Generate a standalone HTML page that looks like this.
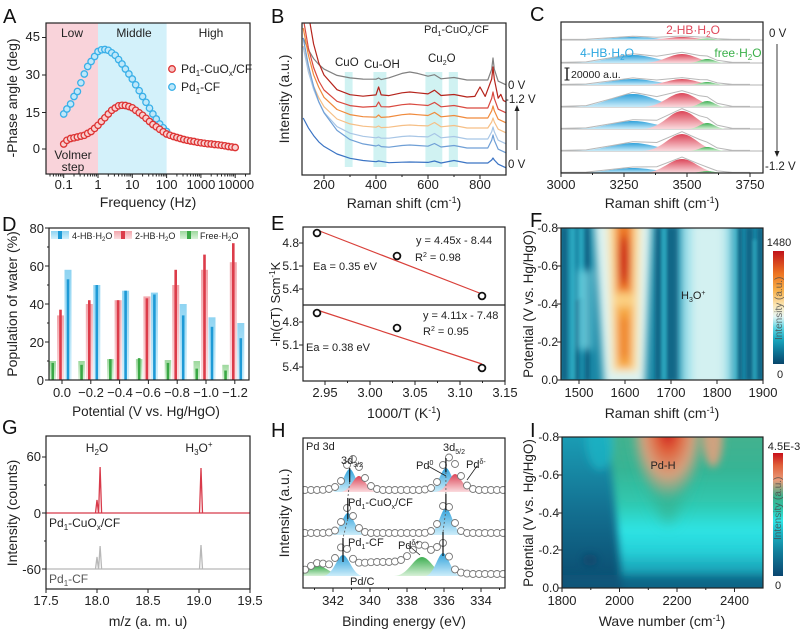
<!DOCTYPE html>
<html><head><meta charset="utf-8"><style>
html,body{margin:0;padding:0;background:#fff;}
svg{display:block;font-family:"Liberation Sans",Arial,sans-serif;}
</style></head><body>
<svg width="800" height="633" viewBox="0 0 800 633" xmlns="http://www.w3.org/2000/svg">
<defs>
<clipPath id="cB"><rect x="302" y="23" width="204" height="152"/></clipPath>
<clipPath id="cC"><rect x="561" y="22" width="202" height="151"/></clipPath>
<clipPath id="cF"><rect x="561" y="228" width="202" height="152"/></clipPath>
<clipPath id="cH"><rect x="303" y="438" width="202" height="150"/></clipPath>
<clipPath id="cI"><rect x="562" y="437" width="201" height="151"/></clipPath>
<filter id="bl" filterUnits="userSpaceOnUse" x="0" y="0" width="800" height="633"><feGaussianBlur stdDeviation="4"/></filter>
<filter id="bl1" filterUnits="userSpaceOnUse" x="0" y="0" width="800" height="633"><feGaussianBlur stdDeviation="1.5"/></filter>
<filter id="bl2" filterUnits="userSpaceOnUse" x="0" y="0" width="800" height="633"><feGaussianBlur stdDeviation="7"/></filter>
<marker id="mb" markerUnits="userSpaceOnUse" markerWidth="10" markerHeight="10" refX="5" refY="5"><circle cx="5" cy="5" r="3.2" fill="#bfe8fa" stroke="#3ab0e8" stroke-width="1.3"/></marker>
<marker id="mr" markerUnits="userSpaceOnUse" markerWidth="10" markerHeight="10" refX="5" refY="5"><circle cx="5" cy="5" r="3.2" fill="#f8d0d0" stroke="#d33" stroke-width="1.3"/></marker>
<marker id="mh" markerUnits="userSpaceOnUse" markerWidth="10" markerHeight="10" refX="5" refY="5"><circle cx="5" cy="5" r="3.5" fill="#fff" stroke="#777" stroke-width="0.9"/></marker>
<linearGradient id="gF" x1="0" y1="1" x2="0" y2="0">
<stop offset="0" stop-color="#08456a"/><stop offset="0.12" stop-color="#0f7a9a"/><stop offset="0.22" stop-color="#1ba9c0"/><stop offset="0.32" stop-color="#5fd6e4"/><stop offset="0.42" stop-color="#e6f6f4"/><stop offset="0.52" stop-color="#fbe6b4"/><stop offset="0.65" stop-color="#f7b04a"/><stop offset="0.8" stop-color="#ec7422"/><stop offset="1" stop-color="#c0121a"/></linearGradient>
<linearGradient id="gI" x1="0" y1="1" x2="0" y2="0">
<stop offset="0" stop-color="#0a4670"/><stop offset="0.2" stop-color="#127f9c"/><stop offset="0.35" stop-color="#1bb5c4"/><stop offset="0.45" stop-color="#2ee6e6"/><stop offset="0.55" stop-color="#2fc4a8"/><stop offset="0.65" stop-color="#3fae8a"/><stop offset="0.78" stop-color="#e89a78"/><stop offset="0.9" stop-color="#e0603a"/><stop offset="1" stop-color="#c8101a"/></linearGradient>
<linearGradient id="iL" x1="0" y1="1" x2="0" y2="0"><stop offset="0" stop-color="#0a4a6e"/><stop offset="0.5" stop-color="#136f90"/><stop offset="1" stop-color="#1a9cb4"/></linearGradient>
<linearGradient id="iR" x1="0" y1="1" x2="0" y2="0"><stop offset="0" stop-color="#0e5c80"/><stop offset="0.12" stop-color="#158ea8"/><stop offset="0.28" stop-color="#26d0d8"/><stop offset="0.4" stop-color="#2ee4e4"/><stop offset="0.55" stop-color="#2fc9b0"/><stop offset="0.75" stop-color="#36b494"/><stop offset="1" stop-color="#48b08c"/></linearGradient>
<radialGradient id="iP"><stop offset="0" stop-color="#c8101a"/><stop offset="0.3" stop-color="#e0603a"/><stop offset="0.65" stop-color="#e8a07c" stop-opacity="0.9"/><stop offset="1" stop-color="#e8a07c" stop-opacity="0"/></radialGradient>
<linearGradient id="lb" x1="0" y1="0" x2="0" y2="1"><stop offset="0" stop-color="#8fd4f2"/><stop offset="1" stop-color="#d4f0fb"/></linearGradient>
<linearGradient id="lr" x1="0" y1="0" x2="0" y2="1"><stop offset="0" stop-color="#f2a6ac"/><stop offset="1" stop-color="#fbdde0"/></linearGradient>
<linearGradient id="lg" x1="0" y1="0" x2="0" y2="1"><stop offset="0" stop-color="#9dd89d"/><stop offset="1" stop-color="#daf2da"/></linearGradient>
<linearGradient id="fb" x1="0" y1="0" x2="0" y2="1"><stop offset="0" stop-color="#1f9ad8"/><stop offset="1" stop-color="#c8ecfa"/></linearGradient>
<linearGradient id="fr" x1="0" y1="0" x2="0" y2="1"><stop offset="0" stop-color="#d9364a"/><stop offset="1" stop-color="#fbd8dc"/></linearGradient>
<linearGradient id="fg" x1="0" y1="0" x2="0" y2="1"><stop offset="0" stop-color="#2ea844"/><stop offset="1" stop-color="#d4f0d4"/></linearGradient>
</defs>
<rect width="800" height="633" fill="#fff"/>

<!-- ===== A ===== -->
<rect x="46" y="23" width="52" height="151" fill="#f9d3da"/>
<rect x="98" y="23" width="68.6" height="151" fill="#d3f1fa"/>
<polyline fill="none" stroke="none" marker-start="url(#mb)" marker-mid="url(#mb)" marker-end="url(#mb)" points="63.7,114 66.9,109 70.6,104 74,96.5 77.4,91.5 80.9,82.8 84.3,74 87.7,66.5 91.1,61.5 94.6,56.5 98,51.5 101.4,49.8 104.9,49.5 108.3,50.3 111.7,52.8 115.2,55.3 118.6,59.6 122,64 125.4,69 128.9,74 132.3,79 135.7,84.8 139.2,90.7 142.6,96.5 146,102.3 149.5,108.2 152.9,114 156.3,119 159.7,124 163.2,127.8 166.6,131.5"/>
<polyline fill="none" stroke="none" marker-start="url(#mr)" marker-mid="url(#mr)" marker-end="url(#mr)" points="63.7,144 66.9,140.3 70.6,138.5 74,137.8 77.4,137 80.9,136.1 84.3,135.3 87.7,133.4 91.1,131.5 94.6,128.4 98,125.3 101.4,121.5 104.9,117.8 108.3,114 111.7,110.3 115.2,108 118.6,105.8 122,105.3 125.4,105.5 128.9,106.5 132.3,107.8 135.7,110.3 139.2,112.8 142.6,115.3 146,118.3 149.5,121.5 152.9,124.5 156.3,126.8 159.7,129.3 163.2,131.8 166.6,134 170,135.3 173.5,136.5 176.9,137.5 180.3,138.5 183.8,139.5 187.2,140.3 190.6,141 194,141.5 197.5,142.3 200.9,142.8 204.3,143.3 207.8,143.8 211.2,144 214.6,144.5 218.1,144.8 221.5,145.3 224.9,145.8 228.3,146.5 231.8,147 235.2,147.5"/>
<g stroke="#222" stroke-width="1" fill="none">
<path d="M46,37.5h-4M46,75h-4M46,112.5h-4M46,149h-4"/>
<path d="M63.7,174v4M98,174v4M132.3,174v4M166.6,174v4M200.9,174v4M235.2,174v4"/>
<path d="M50,174v2.5M53.4,174v2.5M56.1,174v2.5M58.4,174v2.5M60.4,174v2.5M62.1,174v2.5M74,174v2.5M80.1,174v2.5M84.3,174v2.5M87.7,174v2.5M90.4,174v2.5M92.7,174v2.5M94.7,174v2.5M96.4,174v2.5M108.3,174v2.5M114.4,174v2.5M118.6,174v2.5M122,174v2.5M124.7,174v2.5M127,174v2.5M129,174v2.5M130.7,174v2.5M142.6,174v2.5M148.7,174v2.5M152.9,174v2.5M156.3,174v2.5M159,174v2.5M161.3,174v2.5M163.3,174v2.5M165,174v2.5M176.9,174v2.5M183,174v2.5M187.2,174v2.5M190.6,174v2.5M193.3,174v2.5M195.6,174v2.5M197.6,174v2.5M199.3,174v2.5M211.2,174v2.5M217.3,174v2.5M221.5,174v2.5M224.9,174v2.5M227.6,174v2.5M229.9,174v2.5M231.9,174v2.5M233.6,174v2.5M245.5,174v2.5"/>
</g>

<!-- ===== B ===== -->
<g clip-path="url(#cB)">
<g fill="#c8f0f0" opacity="0.85"><rect x="344.8" y="72" width="7.8" height="95"/><rect x="373.4" y="72" width="13" height="95"/><rect x="425.4" y="72" width="16.9" height="95"/><rect x="448.8" y="72" width="9.1" height="95"/></g>
<g fill="none" stroke-width="1.2" stroke-linejoin="round">
<polyline stroke="#808080" points="303.2,38 308.4,49.8 313.6,58.6 318.8,64.5 324,69.1 337,75.4 350,77.9 363,79.1 376,79.2 378.6,78 381.2,79.6 389,77.8 402,73.4 409.8,72 417.6,73.4 428,76.2 434.5,74.7 441,78.8 454,77.5 467,80 480,80 487.8,80 491.7,69.2 493,58 494.3,69.2 498.2,81.2 506,84.8"/>
<polyline stroke="#b5241c" points="303.2,-33 308.4,14 313.6,44 318.8,63 324,75 337,89.7 350,94.7 363,96.2 376,94.9 378.6,87 381.2,94.9 389,95.6 402,92.8 409.8,92 417.6,92.8 428,93.9 434.5,90.2 441,95.5 454,94.5 467,97 474.8,96.4 480,87 485.2,96.4 491.7,79 493,67 494.3,79 498.2,98.2 500.8,94.4 503.4,100.6 506,101.8"/>
<polyline stroke="#d9493f" points="303.2,18 308.4,48 313.6,67.5 318.8,81 324,90 337,101.3 350,105.6 363,107.1 376,106.4 378.6,102 381.2,106.7 389,106.9 402,104.7 409.8,104 417.6,104.7 428,105.5 434.5,102.4 441,106.8 454,105.5 467,108 480,108 487.8,108 491.7,98.4 493,92 494.3,98.4 498.2,109.2 506,112.8"/>
<polyline stroke="#f08a3c" points="303.2,28 308.4,55 313.6,74.8 318.8,87.4 324,97.3 337,109.5 350,114.6 363,116.7 376,117.2 378.6,115 381.2,117.4 389,116.9 402,114.7 409.8,114 417.6,114.7 428,115.5 434.5,112.4 441,116.8 454,115.5 467,118 480,118 487.8,118 491.7,110.8 493,106 494.3,110.8 498.2,119.2 506,122.8"/>
<polyline stroke="#f6bf86" points="303.2,46 308.4,69 313.6,86.2 318.8,97.7 324,106.7 337,119 350,123.9 363,126.2 376,127.2 378.6,126 381.2,127.6 389,127.2 402,125.5 409.8,125 417.6,125.5 428,125.9 434.5,122.5 441,126.8 454,125.5 467,128 480,128 487.8,128 491.7,122 493,118 494.3,122 498.2,129.2 506,132.8"/>
<polyline stroke="#a8c6e6" points="303.2,47 308.4,72 313.6,89.3 318.8,102.2 324,112.3 337,126.6 350,133.2 363,136.3 376,137.8 378.6,137 381.2,138.2 389,138.2 402,136.5 409.8,136 417.6,136.5 428,136.9 434.5,133.5 441,137.8 454,136.5 467,139 480,139 487.8,139 491.7,131.8 493,127 494.3,131.8 498.2,140.2 506,143.8"/>
<polyline stroke="#6f9fd6" points="303.2,38 308.4,65.5 313.6,86.4 318.8,101.8 324,112.8 337,130.4 350,139.6 363,143.9 376,146 378.6,145 381.2,146.6 389,147.2 402,145.5 409.8,145 417.6,145.5 428,146.2 434.5,143.5 441,147 454,145.5 467,148 480,148 487.8,148 491.7,140.2 493,135 494.3,140.2 498.2,149.2 506,152.8"/>
<polyline stroke="#3b74c4" points="303.2,118 308.4,127.9 313.6,135.6 318.8,141.9 324,146.4 337,154 350,158.3 363,160.5 376,161.7 378.6,161 389,162.7 402,162.2 409.8,162 428,162.4 434.5,161 441,163 454,160.5 467,163 480,163 487.8,163 491.7,160 493,158 494.3,160 498.2,164.2 506,167.8"/>
</g>
</g>
<path d="M324,175v4M376,175v4M428,175v4M480,175v4M350,175v2M402,175v2M454,175v2" stroke="#222"/>

<!-- ===== C ===== -->
<g clip-path="url(#cC)">
<g stroke="#9a9a9a" stroke-width="0.8"><path d="M561,40H763M561,63H763M561,85H763M561,107H763M561,129H763M561,151H763"/></g>
<g opacity="0.92">
<path d="M570,40 C602,40 614,37 632.8,37 S662,40 694,40Z" fill="url(#fb)"/>
<path d="M641.6,40 C661.8,40 669.9,37 682,37 S702.2,40 722.4,40Z" fill="url(#fr)"/>
<path d="M687,40 C697.1,40 701.1,38.5 707.2,38.5 S717.3,40 727.4,40Z" fill="url(#fg)"/>
<path d="M570,63 C602,63 614,55 632.8,55 S662,63 694,63Z" fill="url(#fb)"/>
<path d="M641.6,63 C661.8,63 669.9,54 682,54 S702.2,63 722.4,63Z" fill="url(#fr)"/>
<path d="M687,63 C697.1,63 701.1,59 707.2,59 S717.3,63 727.4,63Z" fill="url(#fg)"/>
<path d="M570,85 C602,85 614,79 632.8,79 S662,85 694,85Z" fill="url(#fb)"/>
<path d="M641.6,85 C661.8,85 669.9,79 682,79 S702.2,85 722.4,85Z" fill="url(#fr)"/>
<path d="M687,85 C697.1,85 701.1,82 707.2,82 S717.3,85 727.4,85Z" fill="url(#fg)"/>
<path d="M570,107 C602,107 614,94 632.8,94 S662,107 694,107Z" fill="url(#fb)"/>
<path d="M641.6,107 C661.8,107 669.9,93 682,93 S702.2,107 722.4,107Z" fill="url(#fr)"/>
<path d="M687,107 C697.1,107 701.1,101 707.2,101 S717.3,107 727.4,107Z" fill="url(#fg)"/>
<path d="M570,129 C602,129 614,121 632.8,121 S662,129 694,129Z" fill="url(#fb)"/>
<path d="M641.6,129 C661.8,129 669.9,111 682,111 S702.2,129 722.4,129Z" fill="url(#fr)"/>
<path d="M687,129 C697.1,129 701.1,123 707.2,123 S717.3,129 727.4,129Z" fill="url(#fg)"/>
<path d="M570,151 C602,151 614,143 632.8,143 S662,151 694,151Z" fill="url(#fb)"/>
<path d="M641.6,151 C661.8,151 669.9,134 682,134 S702.2,151 722.4,151Z" fill="url(#fr)"/>
<path d="M687,151 C697.1,151 701.1,147 707.2,147 S717.3,151 727.4,151Z" fill="url(#fg)"/>
<path d="M570,173 C602,173 614,168 632.8,168 S662,173 694,173Z" fill="url(#fb)"/>
<path d="M641.6,173 C661.8,173 669.9,159 682,159 S702.2,173 722.4,173Z" fill="url(#fr)"/>
<path d="M687,173 C697.1,173 701.1,171 707.2,171 S717.3,173 727.4,173Z" fill="url(#fg)"/>
</g>
<g fill="none" stroke="#b8b8b8" stroke-width="1">
<polyline points="561,39.4 586.2,39.2 611.4,37.6 632.8,36.2 656.8,37.2 682,36 699.6,37 707.2,37.1 717.2,38.7 732.4,39.4 750,39.4"/>
<polyline points="561,62.4 586.2,61.9 611.4,57.6 632.8,53.7 656.8,56.3 682,52.3 699.6,55.5 707.2,56 717.2,60.3 732.4,62.4 750,62.4"/>
<polyline points="561,84.4 586.2,84 611.4,80.8 632.8,77.9 656.8,80 682,77.6 699.6,79.6 707.2,79.8 717.2,82.9 732.4,84.4 750,84.4"/>
<polyline points="561,106.4 586.2,105.6 611.4,98.7 632.8,92.3 656.8,96.6 682,90.7 699.6,95.8 707.2,96.7 717.2,103.3 732.4,106.4 750,106.4"/>
<polyline points="561,128.4 586.2,127.9 611.4,123.6 632.8,119.7 656.8,120.3 682,108.6 699.6,115.8 707.2,117.8 717.2,125.1 732.4,128.4 750,128.4"/>
<polyline points="561,150.4 586.2,149.9 611.4,145.6 632.8,141.7 656.8,142.5 682,131.7 699.6,139.5 707.2,142.2 717.2,147.9 732.4,150.4 750,150.4"/>
<polyline points="561,172.4 586.2,172.1 611.4,169.4 632.8,167 656.8,166.7 682,157 699.6,164.2 707.2,167.1 717.2,170.9 732.4,172.4 750,172.4"/>
</g>
</g>
<path d="M561,173v4M624,173v4M687,173v4M750,173v4M592.5,173v2M655.5,173v2M718.5,173v2" stroke="#222"/>

<!-- ===== D ===== -->
<g>
<rect x="49.5" y="361" width="6.5" height="19" fill="url(#lg)"/><rect x="51.45" y="362.9" width="2.6" height="17.1" fill="#3aa845"/>
<rect x="57" y="315.4" width="7" height="64.6" fill="url(#lr)"/><rect x="59.2" y="309.7" width="2.6" height="70.3" fill="#dc3c4a"/>
<rect x="64.5" y="269.8" width="7" height="110.2" fill="url(#lb)"/><rect x="66.7" y="279.3" width="2.6" height="100.7" fill="#1e9ad6"/>
<rect x="78.3" y="361" width="6.5" height="19" fill="url(#lg)"/><rect x="80.25" y="364.8" width="2.6" height="15.2" fill="#3aa845"/>
<rect x="85.8" y="304" width="7" height="76" fill="url(#lr)"/><rect x="88" y="300.2" width="2.6" height="79.8" fill="#dc3c4a"/>
<rect x="93.3" y="285" width="7" height="95" fill="url(#lb)"/><rect x="95.5" y="285" width="2.6" height="95" fill="#1e9ad6"/>
<rect x="107.1" y="359.1" width="6.5" height="20.9" fill="url(#lg)"/><rect x="109.05" y="359.1" width="2.6" height="20.9" fill="#3aa845"/>
<rect x="114.6" y="300.2" width="7" height="79.8" fill="url(#lr)"/><rect x="116.8" y="300.2" width="2.6" height="79.8" fill="#dc3c4a"/>
<rect x="122.1" y="290.7" width="7" height="89.3" fill="url(#lb)"/><rect x="124.3" y="290.7" width="2.6" height="89.3" fill="#1e9ad6"/>
<rect x="135.9" y="359.1" width="6.5" height="20.9" fill="url(#lg)"/><rect x="137.85" y="358.15" width="2.6" height="21.85" fill="#3aa845"/>
<rect x="143.4" y="296.4" width="7" height="83.6" fill="url(#lr)"/><rect x="145.6" y="298.3" width="2.6" height="81.7" fill="#dc3c4a"/>
<rect x="150.9" y="292.6" width="7" height="87.4" fill="url(#lb)"/><rect x="153.1" y="294.5" width="2.6" height="85.5" fill="#1e9ad6"/>
<rect x="164.7" y="360.05" width="6.5" height="19.95" fill="url(#lg)"/><rect x="166.65" y="362.9" width="2.6" height="17.1" fill="#3aa845"/>
<rect x="172.2" y="285" width="7" height="95" fill="url(#lr)"/><rect x="174.4" y="269.8" width="2.6" height="110.2" fill="#dc3c4a"/>
<rect x="179.7" y="304" width="7" height="76" fill="url(#lb)"/><rect x="181.9" y="315.4" width="2.6" height="64.6" fill="#1e9ad6"/>
<rect x="193.5" y="361" width="6.5" height="19" fill="url(#lg)"/><rect x="195.45" y="368.6" width="2.6" height="11.4" fill="#3aa845"/>
<rect x="201" y="269.8" width="7" height="110.2" fill="url(#lr)"/><rect x="203.2" y="254.6" width="2.6" height="125.4" fill="#dc3c4a"/>
<rect x="208.5" y="317.3" width="7" height="62.7" fill="url(#lb)"/><rect x="210.7" y="326.8" width="2.6" height="53.2" fill="#1e9ad6"/>
<rect x="222.3" y="364.8" width="6.5" height="15.2" fill="url(#lg)"/><rect x="224.25" y="370.5" width="2.6" height="9.5" fill="#3aa845"/>
<rect x="229.8" y="262.2" width="7" height="117.8" fill="url(#lr)"/><rect x="232" y="243.2" width="2.6" height="136.8" fill="#dc3c4a"/>
<rect x="237.3" y="323" width="7" height="57" fill="url(#lb)"/><rect x="239.5" y="338.2" width="2.6" height="41.8" fill="#1e9ad6"/>
</g>
<path d="M49,228h-4M49,266h-4M49,304h-4M49,342h-4M49,380h-4M49,247h-2M49,285h-2M49,323h-2M49,361h-2M62,380v4M90.8,380v4M119.6,380v4M148.4,380v4M177.2,380v4M206,380v4M234.8,380v4" stroke="#222"/>

<!-- ===== E ===== -->
<line x1="317" y1="230" x2="482" y2="294" stroke="#d9403a" stroke-width="1.2"/>
<line x1="317" y1="310" x2="482" y2="364" stroke="#d9403a" stroke-width="1.2"/>
<g fill="#fff" stroke="#111" stroke-width="1.8"><circle cx="317" cy="233" r="3.4"/><circle cx="397" cy="256" r="3.4"/><circle cx="482" cy="296" r="3.4"/><circle cx="317" cy="313" r="3.4"/><circle cx="397" cy="328" r="3.4"/><circle cx="482" cy="368" r="3.4"/></g>
<path d="M303,243h-4M303,266h-4M303,289h-4M303,322h-4M303,345h-4M303,367h-4M325,381v4M370,381v4M415,381v4M460,381v4M505,381v4M347.5,381v2M392.5,381v2M437.5,381v2M482.5,381v2" stroke="#222"/>

<!-- ===== F heatmap ===== -->
<g clip-path="url(#cF)">
<rect x="561" y="228" width="202" height="152" fill="#1a88a6"/>
<g filter="url(#bl1)">
<g fill="#0b5f80" opacity="0.8"><rect x="561" y="228" width="6" height="152"/><rect x="585" y="228" width="5" height="152"/><rect x="655" y="228" width="6" height="152"/><rect x="667" y="228" width="11" height="152"/><rect x="737" y="228" width="5" height="152"/><rect x="746" y="228" width="7" height="152"/><rect x="757" y="228" width="6" height="152"/><rect x="575" y="300" width="4" height="80"/></g>
<g fill="#36bfd2" opacity="0.6"><rect x="570" y="228" width="5" height="152"/><rect x="662" y="228" width="4" height="152"/><rect x="733" y="228" width="4" height="152"/><rect x="753" y="240" width="3" height="140"/><rect x="579" y="228" width="4" height="70"/></g>
</g>
<g filter="url(#bl)">
<rect x="681" y="222" width="52" height="165" fill="#9fe0ea"/>
<rect x="692" y="222" width="32" height="165" fill="#dcf3f2" opacity="0.85"/>
<rect x="578" y="270" width="14" height="80" fill="#6fd2e0" opacity="0.8"/>
<polygon points="594,222 652,222 645,386 604,386" fill="#ddf3f1"/>
<polygon points="607,222 641,222 638,372 612,372" fill="#fbe3a8"/>
<polygon points="614,222 634,222 632,368 617,368" fill="#f5a540"/>
<ellipse cx="624" cy="300" rx="9" ry="8" fill="#fbcf80"/>
<rect x="617" y="222" width="14" height="70" fill="#ee7a28"/>
<rect x="618" y="318" width="12" height="40" fill="#f08a30"/>
<ellipse cx="624" cy="260" rx="5" ry="26" fill="#cc1a1a"/>
</g>
</g>
<path d="M561,228h-4M561,266h-4M561,304h-4M561,342h-4M561,380h-4M579,380v4M625,380v4M671,380v4M717,380v4M763,380v4" stroke="#222"/>

<!-- ===== G ===== -->
<path d="M46,513H250M95.5,513L97,500L98.5,513M98.6,513L100.1,467L101.6,513M199.5,513L201,468L202.5,513" fill="none" stroke="#d83a4a" stroke-width="1.3"/>
<path d="M46,569H250M95.5,569L97,557L98.5,569M98.6,569L100.1,546L101.6,569M199.5,569L201,545L202.5,569" fill="none" stroke="#b8b8b8" stroke-width="1.3"/>
<path d="M46,457h-4M46,513h-4M46,569h-4M46,485h-2M46,541h-2M46,589v4M97,589v4M148,589v4M199,589v4M250,589v4" stroke="#222"/>

<!-- ===== H ===== -->
<g clip-path="url(#cH)">
<g opacity="0.92">
<path d="M332,492 C341,492 345,469 349.7,469 S358,492 367,492Z" fill="url(#fb)"/>
<path d="M340,492 C350,492 354,476 358.9,476 S368,492 378,492Z" fill="url(#fr)"/>
<path d="M428,492 C437,492 441,468 445.9,468 S455,492 464,492Z" fill="url(#fb)"/>
<path d="M435,492 C446,492 450,474 455.1,474 S465,492 475,492Z" fill="url(#fr)"/>
<path d="M330,535 C339,535 343,513 347.8,513 S357,535 366,535Z" fill="url(#fb)"/>
<path d="M428,535 C437,535 441,508 445.9,508 S455,535 464,535Z" fill="url(#fb)"/>
<path d="M290,576 C304,576 309.6,566 318,566 S332,576 346,576Z" fill="url(#fg)"/>
<path d="M394,576 C408,576 413.6,557 422,557 S436,576 450,576Z" fill="url(#fg)"/>
<path d="M323,576 C333,576 337.6,555 343,555 S353,576 363,576Z" fill="url(#fb)"/>
<path d="M425,576 C434,576 438,553 443,553 S452,576 461,576Z" fill="url(#fb)"/>
</g>
<polyline fill="none" stroke="none" marker-start="url(#mh)" marker-mid="url(#mh)" marker-end="url(#mh)" points="305,490 311,490 317,490 323,489.8 329,489 335,487 341,481 347,465 353,459 359,467 365,478 371,486 377,489 383,490 389,490 395,490 401,490 407,490 413,490 419,490 425,489.5 431,488 437,482 443,465 449,457.5 455,464 461,476 467,485.5 473,489 479,490 485,490 491,490 497,490 503,490"/>
<polyline fill="none" stroke="none" marker-start="url(#mh)" marker-mid="url(#mh)" marker-end="url(#mh)" points="305,533 311,533 317,533 323,533 329,532.5 335,530.5 341,522 347,508 353,516 359,528 365,532 371,533 377,533 383,533 389,533 395,533 401,533 407,533 413,533 419,533 425,532.8 431,531 437,524 443,506 449,507 455,523 461,531 467,533 473,533 479,533 485,533 491,533 497,533 503,533"/>
<polyline fill="none" stroke="none" marker-start="url(#mh)" marker-mid="url(#mh)" marker-end="url(#mh)" points="305,569.7 311,565.9 317,563.1 323,563.6 329,564.3 335,558 341,547.4 347,548.9 353,558.8 359,562.7 365,562.7 371,562.2 377,562 383,562 389,562 395,561.5 401,560 407,556.1 413,549.7 419,544.8 425,545.6 431,549.9 437,547 443,542.9 449,556.6 455,569.4 461,572.6 467,573.6 473,574 479,574 485,574 491,574 497,574 503,574"/>
<path d="M349.7,468V482M445.9,458V472M347.8,498V519M445.9,494V510M343,538V562M443,532V556" stroke="#111" stroke-width="1.2"/>
<path d="M349.7,482L347.8,498M347.8,519L343,538M445.9,472L445.9,494M445.9,510L443,532" stroke="#555" stroke-width="0.8" stroke-dasharray="2,2" fill="none"/>
</g>
<path d="M428,466L446,476M477,466L467,480M408,545L420,555" stroke="#222" stroke-width="0.8" fill="none"/>
<path d="M333,588v4M370,588v4M407,588v4M444,588v4M481,588v4M314.5,588v2M351.5,588v2M388.5,588v2M425.5,588v2M462.5,588v2M499.5,588v2" stroke="#222"/>

<!-- ===== I heatmap ===== -->
<g clip-path="url(#cI)">
<rect x="562" y="437" width="201" height="151" fill="url(#iL)"/>
<g filter="url(#bl)">
<path d="M623,600 C618,540 614,480 606,425 L775,425 L775,600Z" fill="url(#iR)"/>
<ellipse cx="600" cy="440" rx="14" ry="30" fill="#1fb8c8" opacity="0.7"/>
<ellipse cx="590" cy="560" rx="8" ry="6" fill="#0a4268" opacity="0.7"/>
<rect x="560" y="575" width="210" height="20" fill="#0e5a7e" opacity="0.7"/>
</g>
<g filter="url(#bl2)">
<path d="M632,425 C638,470 652,505 668,525 C684,505 696,470 704,425Z" fill="#34b696" opacity="0.9"/>
</g>
<g filter="url(#bl)">
<ellipse cx="668" cy="430" rx="38" ry="70" fill="url(#iP)"/>
<ellipse cx="713" cy="437" rx="10" ry="30" fill="#e8a07c" opacity="0.85"/>
</g>
</g>
<path d="M562,437h-4M562,475h-4M562,513h-4M562,550h-4M562,588h-4M562,588v4M619.5,588v4M677,588v4M734.5,588v4M590.8,588v2M648.3,588v2M705.8,588v2" stroke="#222"/>

<!-- frames -->
<g fill="none" stroke="#222" stroke-width="1.2">
<rect x="46" y="23" width="204" height="151"/>
<rect x="302" y="23" width="204" height="152"/>
<rect x="561" y="22" width="202" height="151"/>
<rect x="49" y="228" width="200" height="152"/>
<rect x="303" y="227" width="202" height="154"/><line x1="303" y1="305" x2="505" y2="305"/>
<rect x="561" y="228" width="202" height="152"/>
<rect x="46" y="436" width="204" height="153"/>
<rect x="303" y="438" width="202" height="150"/>
<rect x="562" y="437" width="201" height="151"/>
</g>
<g font-size="20" fill="#111">
<text x="3" y="23">A</text><text x="271" y="23">B</text><text x="530" y="21">C</text>
<text x="2" y="231">D</text><text x="271" y="230">E</text><text x="530" y="227">F</text>
<text x="2" y="434">G</text><text x="271" y="437">H</text><text x="530" y="437">I</text>
</g>
<!-- A text -->
<g font-size="12" fill="#222" text-anchor="middle">
<text x="72" y="37">Low</text><text x="134" y="37">Middle</text><text x="211" y="37">High</text>
<text x="73" y="159">Volmer</text><text x="73" y="171">step</text>
<text x="40" y="41" text-anchor="end" font-size="13">45</text><text x="40" y="79" text-anchor="end" font-size="13">30</text>
<text x="40" y="117" text-anchor="end" font-size="13">15</text><text x="40" y="153" text-anchor="end" font-size="13">0</text>
<g font-size="13"><text x="63.7" y="189">0.1</text><text x="98" y="189">1</text><text x="132.3" y="189">10</text><text x="166.6" y="189">100</text><text x="200.9" y="189">1000</text><text x="236" y="189">10000</text></g>
<text x="148" y="207" font-size="14">Frequency (Hz)</text>
<text transform="translate(17,98) rotate(-90)" font-size="14">-Phase angle (deg)</text>
</g>
<g font-size="12" fill="#222">
<circle cx="172" cy="69" r="3.3" fill="#f6c4c4" stroke="#d33" stroke-width="1.3"/>
<text x="181" y="73">Pd<tspan font-size="8" dy="3">1</tspan><tspan dy="-3">-CuO</tspan><tspan font-size="8" dy="3">x</tspan><tspan dy="-3">/CF</tspan></text>
<circle cx="172" cy="87" r="3.3" fill="#bfe8fa" stroke="#3ab0e8" stroke-width="1.3"/>
<text x="181" y="91">Pd<tspan font-size="8" dy="3">1</tspan><tspan dy="-3">-CF</tspan></text>
</g>
<!-- B text -->
<g font-size="12" fill="#222">
<text x="424" y="33" font-size="11">Pd<tspan font-size="7" dy="3">1</tspan><tspan dy="-3">-CuO</tspan><tspan font-size="7" dy="3">x</tspan><tspan dy="-3">/CF</tspan></text>
<text x="335" y="66" font-size="11.5">CuO</text><text x="364" y="68" font-size="11.5">Cu-OH</text>
<text x="428" y="62" font-size="11.5">Cu<tspan font-size="7" dy="3">2</tspan><tspan dy="-3">O</tspan></text>
<text x="508" y="89" font-size="11.5">0 V</text><text x="505" y="103" font-size="11.5">-1.2 V</text>
<text x="508" y="168" font-size="11.5">0 V</text>
<line x1="517" y1="150" x2="517" y2="108" stroke="#222" stroke-width="0.9"/><path d="M514.5,111 L517,105 L519.5,111Z" fill="#222"/>
<g text-anchor="middle" font-size="13"><text x="324" y="189">200</text><text x="376" y="189">400</text><text x="428" y="189">600</text><text x="480" y="189">800</text>
<text x="404" y="208" font-size="14">Raman shift (cm<tspan font-size="9" dy="-5">-1</tspan><tspan dy="5">)</tspan></text>
<text transform="translate(289,99) rotate(-90)" font-size="14">Intensity (a.u.)</text></g>
</g>
<!-- C text -->
<g font-size="12" fill="#222">
<text x="693" y="34" text-anchor="middle" fill="#e0485a">2-HB·H<tspan font-size="8" dy="3">2</tspan><tspan dy="-3">O</tspan></text>
<text x="607" y="57" text-anchor="middle" fill="#2aa6e0">4-HB·H<tspan font-size="8" dy="3">2</tspan><tspan dy="-3">O</tspan></text>
<text x="738" y="57" text-anchor="middle" fill="#3bb04a">free·H<tspan font-size="8" dy="3">2</tspan><tspan dy="-3">O</tspan></text>
<line x1="567" y1="68" x2="567" y2="80" stroke="#222" stroke-width="1.5"/><line x1="564.5" y1="68" x2="569.5" y2="68" stroke="#222"/><line x1="564.5" y1="80" x2="569.5" y2="80" stroke="#222"/>
<text x="571" y="78" font-size="10.5">20000 a.u.</text>
<text x="769" y="37" font-size="11.5">0 V</text><text x="765" y="170" font-size="11.5">-1.2 V</text>
<line x1="777" y1="44" x2="777" y2="154" stroke="#222" stroke-width="0.9"/><path d="M774.5,151 L777,157 L779.5,151Z" fill="#222"/>
<g text-anchor="middle" font-size="13"><text x="561" y="189">3000</text><text x="624" y="189">3250</text><text x="687" y="189">3500</text><text x="750" y="189">3750</text>
<text x="662" y="208" font-size="14">Raman shift (cm<tspan font-size="9" dy="-5">-1</tspan><tspan dy="5">)</tspan></text></g>
</g>
<!-- D text -->
<g font-size="13" fill="#222">
<g text-anchor="end"><text x="44" y="233">80</text><text x="44" y="271">60</text><text x="44" y="309">40</text><text x="44" y="347">20</text><text x="44" y="385">0</text></g>
<g text-anchor="middle"><text x="62" y="397">0.0</text><text x="91" y="397">−0.2</text><text x="120" y="397">−0.4</text><text x="148" y="397">−0.6</text><text x="177" y="397">−0.8</text><text x="206" y="397">−1.0</text><text x="235" y="397">−1.2</text>
<text x="146" y="416" font-size="13.5">Potential (V vs. Hg/HgO)</text>
<text transform="translate(17,304) rotate(-90)" font-size="14">Population of water (%)</text></g>
<rect x="51" y="231" width="18" height="8" fill="url(#lb)"/><rect x="58" y="231" width="4" height="8" fill="#1e9ad6"/>
<text x="72" y="239" font-size="9">4-HB·H<tspan font-size="6" dy="2">2</tspan><tspan dy="-2">O</tspan></text>
<rect x="114" y="231" width="18" height="8" fill="url(#lr)"/><rect x="121" y="231" width="4" height="8" fill="#dc3c4a"/>
<text x="135" y="239" font-size="9">2-HB·H<tspan font-size="6" dy="2">2</tspan><tspan dy="-2">O</tspan></text>
<rect x="180" y="231" width="18" height="8" fill="url(#lg)"/><rect x="187" y="231" width="4" height="8" fill="#3aa845"/>
<text x="200" y="239" font-size="9">Free·H<tspan font-size="6" dy="2">2</tspan><tspan dy="-2">O</tspan></text>
</g>
<!-- E text -->
<g font-size="12" fill="#222">
<g text-anchor="end" font-size="12"><text x="299" y="247">4.8</text><text x="299" y="270">5.1</text><text x="299" y="293">5.4</text>
<text x="299" y="326">4.8</text><text x="299" y="349">5.1</text><text x="299" y="371">5.4</text></g>
<text x="416" y="244" font-size="11">y = 4.45x - 8.44</text><text x="415" y="261" font-size="11">R<tspan font-size="7" dy="-4">2</tspan><tspan dy="4"> = 0.98</tspan></text>
<text x="313" y="270" font-size="11">Ea = 0.35 eV</text>
<text x="423" y="319" font-size="11">y = 4.11x - 7.48</text><text x="423" y="335" font-size="11">R<tspan font-size="7" dy="-4">2</tspan><tspan dy="4"> = 0.95</tspan></text>
<text x="306" y="351" font-size="11">Ea = 0.38 eV</text>
<g text-anchor="middle" font-size="13"><text x="325" y="397">2.95</text><text x="370" y="397">3.00</text><text x="415" y="397">3.05</text><text x="460" y="397">3.10</text><text x="505" y="397">3.15</text>
<text x="404" y="418" font-size="14">1000/T (K<tspan font-size="9" dy="-5">-1</tspan><tspan dy="5">)</tspan></text>
<text transform="translate(280,304) rotate(-90)" font-size="13">-ln(σT) Scm<tspan font-size="8" dy="-5">-1</tspan><tspan dy="5">K</tspan></text></g>
</g>
<!-- F text -->
<g font-size="12" fill="#222">
<g text-anchor="end"><text x="558" y="232">-0.8</text><text x="558" y="270">-0.6</text><text x="558" y="308">-0.4</text><text x="558" y="346">-0.2</text><text x="558" y="384">0.0</text></g>
<g text-anchor="middle" font-size="13"><text x="579" y="397">1500</text><text x="625" y="397">1600</text><text x="671" y="397">1700</text><text x="717" y="397">1800</text><text x="763" y="397">1900</text>
<text x="662" y="418" font-size="14">Raman shift (cm<tspan font-size="9" dy="-5">-1</tspan><tspan dy="5">)</tspan></text>
<text transform="translate(533,304) rotate(-90)" font-size="13.5">Potential (V vs. Hg/HgO)</text></g>
<text x="681" y="299" font-size="11">H<tspan font-size="7" dy="3">3</tspan><tspan dy="-3">O</tspan><tspan font-size="7" dy="-4">+</tspan></text>
<rect x="773" y="251" width="11" height="113" fill="url(#gF)"/>
<text x="779" y="246" text-anchor="middle" font-size="11">1480</text><text x="777" y="378" font-size="11">0</text>
<text transform="translate(782,340) rotate(-90)" font-size="10" fill="#4a4a4a" opacity="0.8">Intensity (a.u.)</text>
</g>
<!-- G text -->
<g font-size="13" fill="#222">
<g text-anchor="end"><text x="41" y="461">60</text><text x="41" y="518">0</text><text x="41" y="574">-60</text></g>
<text x="97" y="452" text-anchor="middle" font-size="12">H<tspan font-size="8" dy="3">2</tspan><tspan dy="-3">O</tspan></text>
<text x="199" y="452" text-anchor="middle" font-size="12">H<tspan font-size="8" dy="3">3</tspan><tspan dy="-3">O</tspan><tspan font-size="8" dy="-5">+</tspan></text>
<text x="49" y="527" font-size="12">Pd<tspan font-size="8" dy="3">1</tspan><tspan dy="-3">-CuO</tspan><tspan font-size="8" dy="3">x</tspan><tspan dy="-3">/CF</tspan></text>
<text x="49" y="583" font-size="12" fill="#555">Pd<tspan font-size="8" dy="3">1</tspan><tspan dy="-3">-CF</tspan></text>
<g text-anchor="middle"><text x="46" y="605">17.5</text><text x="97" y="605">18.0</text><text x="148" y="605">18.5</text><text x="199" y="605">19.0</text><text x="250" y="605">19.5</text>
<text x="148" y="626" font-size="14">m/z (a. m. u)</text>
<text transform="translate(17,513) rotate(-90)" font-size="14">Intensity (counts)</text></g>
</g>
<!-- H text -->
<g font-size="11" fill="#222">
<text x="306" y="450">Pd 3d</text>
<text x="341" y="464">3d<tspan font-size="7" dy="3">3/2</tspan></text>
<text x="443" y="451">3d<tspan font-size="7" dy="3">5/2</tspan></text>
<text x="416" y="469">Pd<tspan font-size="7" dy="-4">0</tspan></text>
<text x="466" y="468">Pd<tspan font-size="7" dy="-4">δ-</tspan></text>
<text x="348" y="506">Pd<tspan font-size="7" dy="3">1</tspan><tspan dy="-3">-CuO</tspan><tspan font-size="7" dy="3">x</tspan><tspan dy="-3">/CF</tspan></text>
<text x="348" y="546">Pd<tspan font-size="7" dy="3">1</tspan><tspan dy="-3">-CF</tspan></text>
<text x="350" y="585">Pd/C</text>
<text x="398" y="549">Pd<tspan font-size="7" dy="-4">δ+</tspan></text>
<g text-anchor="middle" font-size="13"><text x="333" y="605">342</text><text x="370" y="605">340</text><text x="407" y="605">338</text><text x="444" y="605">336</text><text x="481" y="605">334</text>
<text x="404" y="626" font-size="14">Binding energy (eV)</text>
<text transform="translate(289,513) rotate(-90)" font-size="14">Intensity (a.u.)</text></g>
</g>
<!-- I text -->
<g font-size="12" fill="#222">
<g text-anchor="end"><text x="559" y="441">-0.8</text><text x="559" y="479">-0.6</text><text x="559" y="517">-0.4</text><text x="559" y="554">-0.2</text><text x="559" y="592">0.0</text></g>
<g text-anchor="middle" font-size="13"><text x="562" y="605">1800</text><text x="619.5" y="605">2000</text><text x="677" y="605">2200</text><text x="734.5" y="605">2400</text>
<text x="662" y="626" font-size="14">Wave number (cm<tspan font-size="9" dy="-5">-1</tspan><tspan dy="5">)</tspan></text>
<text transform="translate(533,513) rotate(-90)" font-size="13.5">Potential (V vs. Hg/HgO)</text></g>
<text x="663" y="469" text-anchor="middle" font-size="11">Pd-H</text>
<rect x="773" y="453" width="10" height="123" fill="url(#gI)"/>
<text x="784" y="450" text-anchor="middle" font-size="11">4.5E-3</text><text x="775" y="589" font-size="11">0</text>
<text transform="translate(781,540) rotate(-90)" font-size="10" fill="#4a4a4a" opacity="0.8">Intensity (a.u.)</text>
</g>
</svg>
</body></html>
